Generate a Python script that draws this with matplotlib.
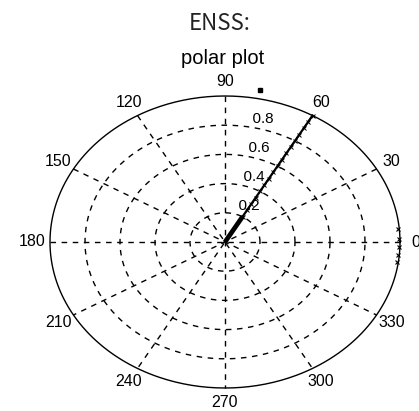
import numpy as np
import matplotlib
matplotlib.use("Agg")
import matplotlib.pyplot as plt

# ---- data ----
title_top = "ENSS:"
title_sub = "polar plot"
spoke_angles = [0, 30, 60, 90, 120, 150]
angle_labels = [0, 30, 60, 90, 120, 150, 180, 210, 240, 270, 300, 330]
ring_radii = [0.2, 0.4, 0.6, 0.8]
ring_labels = ["0.2", "0.4", "0.6", "0.8"]
r_max = 1.0

# main series: thick core segment
core_theta = [60, 60, 60]
core_r = [0.0, 0.1, 0.2]
# outer part with markers
line_theta = [60, 60, 60, 60, 60, 60, 60, 60, 60, 60, 60, 60, 60, 60, 60, 60, 60]
line_r = [0.2, 0.25, 0.3, 0.35, 0.4, 0.45, 0.5, 0.55, 0.6, 0.65, 0.7, 0.75,
          0.8, 0.85, 0.9, 0.95, 1.0]
# scattered points near the rim
edge_theta = [5, 1, -2, -5, -8]
edge_r = [0.995, 0.995, 0.995, 0.995, 0.995]
stray_theta = [79]
stray_r = [1.06]

def xy(theta_deg, r):
    t = np.deg2rad(np.asarray(theta_deg, float))
    r = np.asarray(r, float)
    return r * np.cos(t), r * np.sin(t)

W, H = 419, 411
fig = plt.figure(figsize=(W / 100, H / 100), dpi=100)
cx, cy, rx, ry = 225, 242, 175, 146
ax = fig.add_axes([(cx - rx) / W, (H - cy - ry) / H, 2 * rx / W, 2 * ry / H])
ax.set_xlim(-1, 1)
ax.set_ylim(-1, 1)
ax.set_aspect("auto")
ax.axis("off")

lab_font = dict(family="Liberation Sans", fontsize=11.5, color="black")
tt = np.linspace(0, 2 * np.pi, 400)

# rings
for rr in ring_radii:
    ax.plot(rr * np.cos(tt), rr * np.sin(tt), color="black", lw=1.0,
            dashes=(4, 4), clip_on=False)
# outer circle
ax.plot(r_max * np.cos(tt), r_max * np.sin(tt), color="black", lw=1.0, clip_on=False)
# spokes
for a in spoke_angles:
    x, y = xy([a, a + 180], [r_max, r_max])
    ax.plot(x, y, color="black", lw=1.0, dashes=(4, 4), clip_on=False)

# angle labels
for a in angle_labels:
    rr = 1.1 * r_max if a != 0 else 1.09 * r_max
    x, y = xy(a, rr)
    ax.text(x, y, str(a), ha="center", va="center", clip_on=False, **lab_font)

# ring labels
c82, s82 = np.cos(np.deg2rad(82)), np.sin(np.deg2rad(82))
for rr, lab in zip(ring_radii, ring_labels):
    ax.text(rr * c82, rr * s82, "  " + lab, ha="left", va="bottom",
            clip_on=False, family="Liberation Sans", fontsize=11)

# data
x, y = xy(core_theta, core_r)
ax.plot(x, y, color="black", lw=3.4, solid_capstyle="butt", clip_on=False)
x, y = xy(line_theta, line_r)
ax.plot(x, y, color="black", lw=1.6, marker="x", ms=3, mew=0.7, clip_on=False)
x, y = xy(edge_theta, edge_r)
ax.plot(x, y, ls="none", color="black", marker="x", ms=3, mew=0.8, clip_on=False)
x, y = xy(stray_theta, stray_r)
ax.plot(x, y, ls="none", color="black", marker="s", ms=2.5, clip_on=False)

# titles
fig.text(220 / W, 1 - 23 / H, title_top, ha="center", va="center",
         family="Noto Sans CJK SC", fontweight="light", fontsize=16, color="#222222")
fig.text(223 / W, 1 - 58 / H, title_sub, ha="center", va="center",
         family="Liberation Sans", fontsize=14.5)

fig.savefig("out.png", dpi=100)
